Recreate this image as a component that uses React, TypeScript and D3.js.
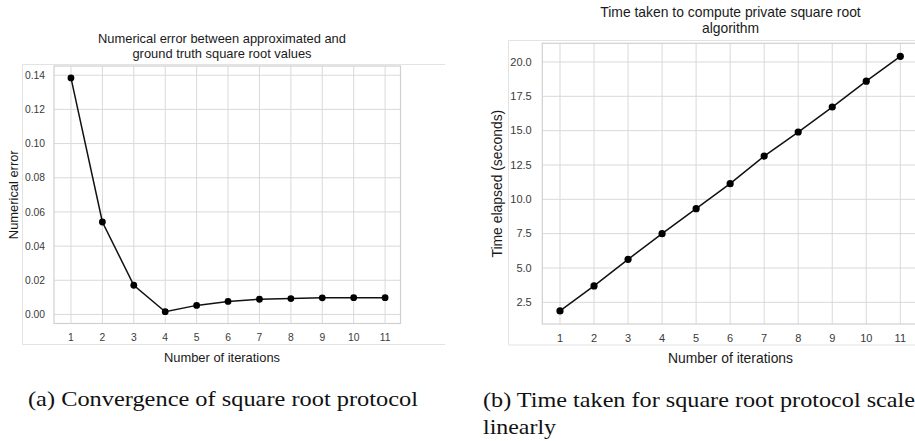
import React, { useEffect, useRef } from "react";
import * as d3 from "d3";

// values
const iterations = [1, 2, 3, 4, 5, 6, 7, 8, 9, 10, 11];
const errorValues = [0.1384, 0.0541, 0.0171, 0.0016, 0.0053, 0.0076, 0.0089, 0.0093, 0.0097, 0.0098, 0.0098];
const timeValues = [1.87, 3.69, 5.63, 7.5, 9.32, 11.14, 13.15, 14.9, 16.72, 18.6, 20.41];
const errorTicks = [0, 0.02, 0.04, 0.06, 0.08, 0.1, 0.12, 0.14];
const timeTicks = [2.5, 5, 7.5, 10, 12.5, 15, 17.5, 20];

const SANS = "'Liberation Sans', Arial, sans-serif";
const SERIF = "'Liberation Serif', 'Times New Roman', serif";
const GRID = "#d9d9d9";

type Panel = {
  box: { x0: number; x1: number; y0: number; y1: number };
  frame: { x0: number; x1: number; y0: number; y1: number };
  xDomain: [number, number];
  yDomain: [number, number];
  values: number[];
  yTicks: number[];
  yFormat: string;
  titleLines: string[];
  titleY: number[];
  centerX: number;
  yLabel: string;
  yLabelX: number;
  font: number;
  tickFont: number;
  tickLabelX: number;
  xTickY: number;
  xLabelY: number;
  r: number;
};

function drawPanel(svg: d3.Selection<SVGSVGElement, unknown, null, undefined>, p: Panel) {
  const g = svg.append("g");
  const x = d3.scaleLinear().domain(p.xDomain).range([p.box.x0, p.box.x1]);
  const y = d3.scaleLinear().domain(p.yDomain).range([p.box.y1, p.box.y0]);

  // outer light frame (top, left, bottom)
  const f = p.frame;
  g.append("path")
    .attr("d", `M${f.x1},${f.y0}H${f.x0}V${f.y1}H${f.x1}`)
    .attr("fill", "none")
    .attr("stroke", "#e3e3e3")
    .attr("stroke-width", 1);

  // grid
  g.selectAll("line.vg")
    .data(iterations)
    .join("line")
    .attr("x1", (d) => x(d))
    .attr("x2", (d) => x(d))
    .attr("y1", p.box.y0)
    .attr("y2", p.box.y1)
    .attr("stroke", GRID);
  g.selectAll("line.hg")
    .data(p.yTicks)
    .join("line")
    .attr("x1", p.box.x0)
    .attr("x2", p.box.x1)
    .attr("y1", (d) => y(d))
    .attr("y2", (d) => y(d))
    .attr("stroke", GRID);

  g.append("rect")
    .attr("x", p.box.x0)
    .attr("y", p.box.y0)
    .attr("width", p.box.x1 - p.box.x0)
    .attr("height", p.box.y1 - p.box.y0)
    .attr("fill", "none")
    .attr("stroke", "#d0d0d0")
    .attr("stroke-width", 1.2);

  // tick labels
  g.selectAll("text.yt")
    .data(p.yTicks)
    .join("text")
    .attr("x", p.tickLabelX)
    .attr("y", (d) => y(d))
    .attr("dy", "0.35em")
    .attr("text-anchor", "end")
    .style("font", `${p.tickFont}px ${SANS}`)
    .attr("fill", "#3a3a3a")
    .text((d) => d3.format(p.yFormat)(d));
  g.selectAll("text.xt")
    .data(iterations)
    .join("text")
    .attr("x", (d) => x(d))
    .attr("y", p.xTickY)
    .attr("text-anchor", "middle")
    .style("font", `${p.tickFont}px ${SANS}`)
    .attr("fill", "#3a3a3a")
    .text((d) => String(d));

  // line + markers
  const pts = iterations.map((it, i) => [it, p.values[i]] as [number, number]);
  g.append("path")
    .datum(pts)
    .attr("d", d3.line<[number, number]>().x((d) => x(d[0])).y((d) => y(d[1])))
    .attr("fill", "none")
    .attr("stroke", "#111")
    .attr("stroke-width", 1.5);
  g.selectAll("circle")
    .data(pts)
    .join("circle")
    .attr("cx", (d) => x(d[0]))
    .attr("cy", (d) => y(d[1]))
    .attr("r", p.r)
    .attr("fill", "#000");

  // title
  p.titleLines.forEach((t, i) => {
    g.append("text")
      .attr("x", p.centerX)
      .attr("y", p.titleY[i])
      .attr("text-anchor", "middle")
      .style("font", `${p.font}px ${SANS}`)
      .attr("fill", "#1a1a1a")
      .text(t);
  });

  // axis labels
  g.append("text")
    .attr("x", p.centerX)
    .attr("y", p.xLabelY)
    .attr("text-anchor", "middle")
    .style("font", `${p.font}px ${SANS}`)
    .attr("fill", "#1a1a1a")
    .text("Number of iterations");
  g.append("text")
    .attr("transform", `translate(${p.yLabelX},${(p.box.y0 + p.box.y1) / 2}) rotate(-90)`)
    .attr("text-anchor", "middle")
    .style("font", `${p.font}px ${SANS}`)
    .attr("fill", "#1a1a1a")
    .text(p.yLabel);
}

export default function App() {
  const svgRef = useRef<SVGSVGElement>(null);

  useEffect(() => {
    if (!svgRef.current) return;
    const svg = d3.select(svgRef.current);
    svg.selectAll("*").remove();

    drawPanel(svg, {
      box: { x0: 54, x1: 400.5, y0: 66, y1: 323.5 },
      frame: { x0: 22.5, x1: 445, y0: 64.5, y1: 344.5 },
      xDomain: [0.46, 11.49],
      yDomain: [-0.0053, 0.1454],
      values: errorValues,
      yTicks: errorTicks,
      yFormat: ".2f",
      titleLines: ["Numerical error between approximated and", "ground truth square root values"],
      titleY: [43, 58],
      centerX: 222,
      yLabel: "Numerical error",
      yLabelX: 17.7,
      font: 12.9,
      tickFont: 10.3,
      tickLabelX: 45,
      xTickY: 340.5,
      xLabelY: 361.5,
      r: 3.4,
    });

    drawPanel(svg, {
      box: { x0: 542.3, x1: 918, y0: 43.3, y1: 324 },
      frame: { x0: 508.5, x1: 915, y0: 40.5, y1: 345 },
      xDomain: [0.48, 11.52],
      yDomain: [0.92, 21.36],
      values: timeValues,
      yTicks: timeTicks,
      yFormat: ".1f",
      titleLines: ["Time taken to compute private square root", "algorithm"],
      titleY: [16.5, 33],
      centerX: 730.5,
      yLabel: "Time elapsed (seconds)",
      yLabelX: 501.5,
      font: 13.9,
      tickFont: 11,
      tickLabelX: 531.7,
      xTickY: 342,
      xLabelY: 363,
      r: 3.6,
    });

    // captions
    const cap = [
      { t: "(a) Convergence of square root protocol", x: 28, y: 406, w: 390 },
      { t: "(b) Time taken for square root protocol scale", x: 483, y: 407, w: 432 },
      { t: "linearly", x: 483, y: 434, w: 73 },
    ];
    svg.selectAll("text.cap")
      .data(cap)
      .join("text")
      .attr("class", "cap")
      .attr("x", (d) => d.x)
      .attr("y", (d) => d.y)
      .attr("textLength", (d) => d.w)
      .attr("lengthAdjust", "spacingAndGlyphs")
      .style("font", `22px ${SERIF}`)
      .attr("fill", "#111")
      .text((d) => d.t);
  }, []);

  return (
    <svg
      ref={svgRef}
      width={915}
      height={441}
      style={{ position: "absolute", left: 0, top: 0, background: "#fff" }}
    />
  );
}
